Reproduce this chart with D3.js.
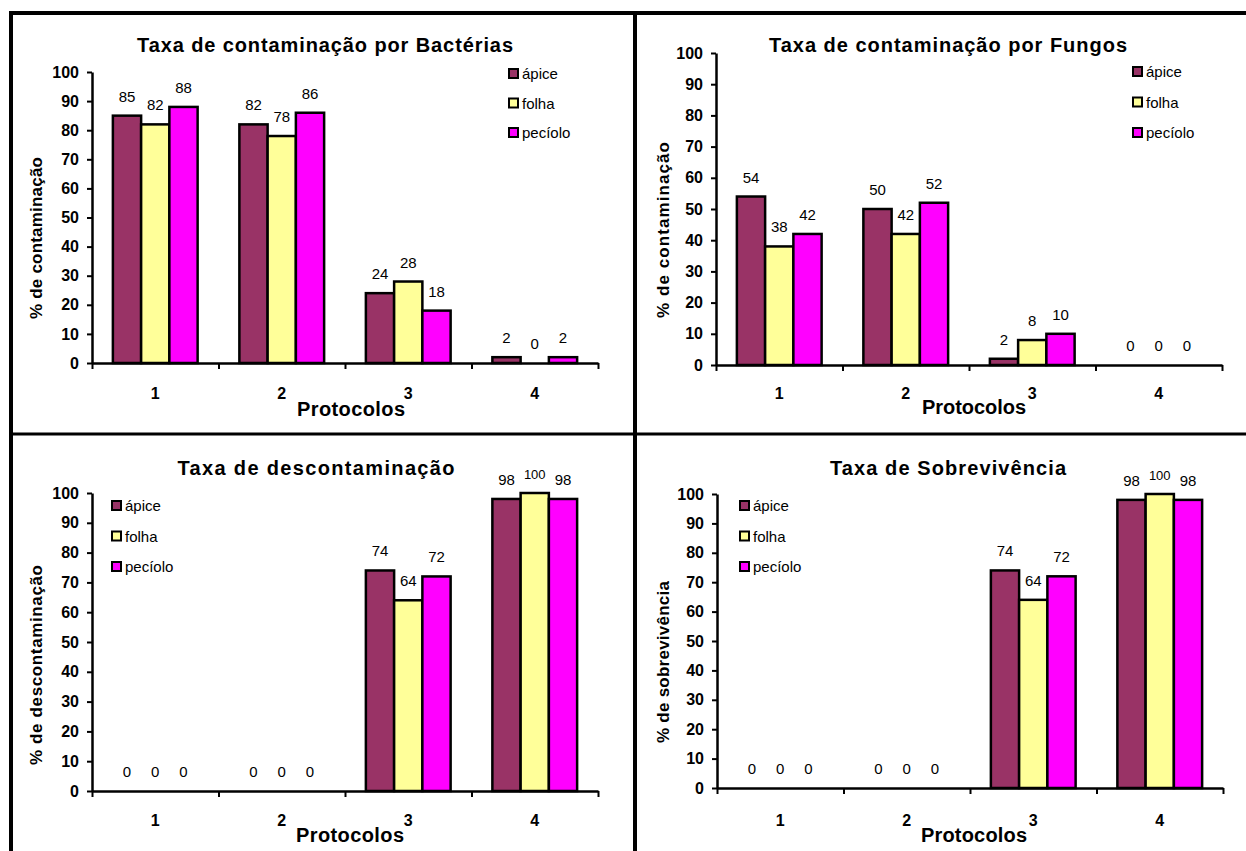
<!DOCTYPE html>
<html>
<head>
<meta charset="utf-8">
<script src="https://cdn.jsdelivr.net/npm/d3@7"></script>
<style>
  html, body { margin: 0; padding: 0; background: #fff; }
  svg { display: block; }
  text { font-family: "Liberation Sans", Arial, sans-serif; fill: #000; }
</style>
</head>
<body>
<svg id="chart" width="1246" height="851"></svg>
<script>
// ---------- data ----------
const categories = ["1", "2", "3", "4"];
const seriesNames = ["ápice", "folha", "pecíolo"];
const seriesColors = ["#993366", "#FFFF99", "#FF00FF"];
const yTicks = [0, 10, 20, 30, 40, 50, 60, 70, 80, 90, 100];
const xAxisTitle = "Protocolos";

const bacteriaApice   = [85, 82, 24, 2];
const bacteriaFolha   = [82, 78, 28, 0];
const bacteriaPeciolo = [88, 86, 18, 2];

const fungosApice   = [54, 50, 2, 0];
const fungosFolha   = [38, 42, 8, 0];
const fungosPeciolo = [42, 52, 10, 0];

const descontApice   = [0, 0, 74, 98];
const descontFolha   = [0, 0, 64, 100];
const descontPeciolo = [0, 0, 72, 98];

const sobrevApice   = [0, 0, 74, 98];
const sobrevFolha   = [0, 0, 64, 100];
const sobrevPeciolo = [0, 0, 72, 98];

const panelTitles = ["Taxa de contaminação por Bactérias", "Taxa de contaminação por Fungos",
                     "Taxa de descontaminação", "Taxa de Sobrevivência"];
const panelYLabels = ["% de contaminação", "% de contaminação",
                      "% de descontaminação", "% de sobrevivência"];
const panelData = [
  [bacteriaApice, bacteriaFolha, bacteriaPeciolo],
  [fungosApice, fungosFolha, fungosPeciolo],
  [descontApice, descontFolha, descontPeciolo],
  [sobrevApice, sobrevFolha, sobrevPeciolo]
];

// ---------- layout ----------
const layouts = [
  {x0: 92, x1: 598, yb: 363, yt: 72, tX: 325, tY: 52, tW: 376, ylX: 42, ylY: 238, ylW: 162,
   tickY: 399, pX: 351, pY: 416, pW: 108, legX: 508, legY: 68, legStep: 29.5},
  {x0: 716, x1: 1222, yb: 365, yt: 53, tX: 948, tY: 52, tW: 358, ylX: 669, ylY: 230, ylW: 176,
   tickY: 399, pX: 974, pY: 414, pW: 104, legX: 1132, legY: 66, legStep: 30.5},
  {x0: 92, x1: 598, yb: 791, yt: 493, tX: 316, tY: 475, tW: 277, ylX: 42, ylY: 665, ylW: 200,
   tickY: 826, pX: 350, pY: 842, pW: 108, legX: 111, legY: 500, legStep: 30.5},
  {x0: 717, x1: 1223, yb: 788, yt: 494, tX: 948, tY: 475, tW: 236, ylX: 669, ylY: 662, ylW: 162,
   tickY: 826, pX: 974, pY: 842, pW: 106, legX: 739, legY: 500, legStep: 30.5}
];

const svg = d3.select("#chart");

// frame lines
const frame = svg.append("g").attr("stroke", "#000");
frame.append("line").attr("x1", 9).attr("x2", 1246).attr("y1", 13).attr("y2", 13).attr("stroke-width", 4);
frame.append("line").attr("x1", 11).attr("x2", 11).attr("y1", 11).attr("y2", 851).attr("stroke-width", 4);
frame.append("line").attr("x1", 635).attr("x2", 635).attr("y1", 11).attr("y2", 851).attr("stroke-width", 4);
frame.append("line").attr("x1", 11).attr("x2", 1246).attr("y1", 434).attr("y2", 434).attr("stroke-width", 3);

function drawPanel(i) {
  const L = layouts[i];
  const data = panelData[i];
  const g = svg.append("g");

  const x = d3.scaleBand().domain(categories).range([L.x0, L.x1])
    .paddingInner(0.33).paddingOuter(0.165);
  const xs = d3.scaleBand().domain(seriesNames).range([0, x.bandwidth()]).padding(0);
  const y = d3.scaleLinear().domain([0, 100]).range([L.yb, L.yt]);

  // bars
  seriesNames.forEach((s, si) => {
    g.append("g").selectAll("rect").data(data[si]).join("rect")
      .attr("x", (d, ci) => x(categories[ci]) + xs(s))
      .attr("y", d => y(d))
      .attr("width", xs.bandwidth())
      .attr("height", d => y(0) - y(d))
      .attr("fill", seriesColors[si])
      .attr("stroke", "#000")
      .attr("stroke-width", d => d > 0 ? 2.5 : 0);
    g.append("g").selectAll("text").data(data[si]).join("text")
      .attr("x", (d, ci) => x(categories[ci]) + xs(s) + xs.bandwidth() / 2)
      .attr("y", d => y(d) - 14)
      .attr("text-anchor", "middle")
      .style("font-size", d => String(d).length > 2 ? "13px" : "15px")
      .text(d => d);
  });

  // y axis
  const ya = g.append("g").attr("transform", `translate(${L.x0},0)`)
    .call(d3.axisLeft(y).tickValues(yTicks).tickSize(5).tickSizeOuter(0).tickPadding(8));
  ya.select(".domain").attr("stroke-width", 2.5);
  ya.selectAll(".tick line").attr("stroke-width", 2);
  ya.selectAll(".tick text").style("font-size", "16px").style("font-weight", "bold")
    .style("font-family", "'Liberation Sans', Arial, sans-serif");

  // x axis: boundary ticks
  const xb = d3.scaleLinear().domain([0, categories.length]).range([L.x0, L.x1]);
  const xa = g.append("g").attr("transform", `translate(0,${L.yb})`)
    .call(d3.axisBottom(xb).tickValues(d3.range(categories.length + 1)).tickSize(6)
      .tickSizeOuter(0).tickFormat(""));
  xa.select(".domain").attr("stroke-width", 2.5);
  xa.selectAll(".tick line").attr("stroke-width", 2);
  // category labels
  g.append("g").selectAll("text").data(categories).join("text")
    .attr("x", d => x(d) + x.bandwidth() / 2)
    .attr("y", L.tickY)
    .attr("text-anchor", "middle")
    .style("font-size", "16px").style("font-weight", "bold")
    .text(d => d);

  // titles
  g.append("text").attr("x", L.tX).attr("y", L.tY).attr("text-anchor", "middle")
    .attr("textLength", L.tW).attr("lengthAdjust", "spacing")
    .style("font-size", "20px").style("font-weight", "bold").text(panelTitles[i]);
  g.append("text").attr("x", L.pX).attr("y", L.pY).attr("text-anchor", "middle")
    .attr("textLength", L.pW).attr("lengthAdjust", "spacing")
    .style("font-size", "20px").style("font-weight", "bold").text(xAxisTitle);
  g.append("text").attr("transform", `translate(${L.ylX},${L.ylY}) rotate(-90)`)
    .attr("text-anchor", "middle")
    .attr("textLength", L.ylW).attr("lengthAdjust", "spacing")
    .style("font-size", "17px").style("font-weight", "bold").text(panelYLabels[i]);

  // legend
  const leg = g.append("g");
  seriesNames.forEach((s, si) => {
    const ly = L.legY + si * L.legStep;
    leg.append("rect").attr("x", L.legX + 1).attr("y", ly + 1).attr("width", 9).attr("height", 9)
      .attr("fill", seriesColors[si]).attr("stroke", "#000").attr("stroke-width", 2);
    leg.append("text").attr("x", L.legX + 14).attr("y", ly + 11)
      .style("font-size", "15px").text(s);
  });
}

for (let i = 0; i < 4; i++) drawPanel(i);
</script>
</body>
</html>
